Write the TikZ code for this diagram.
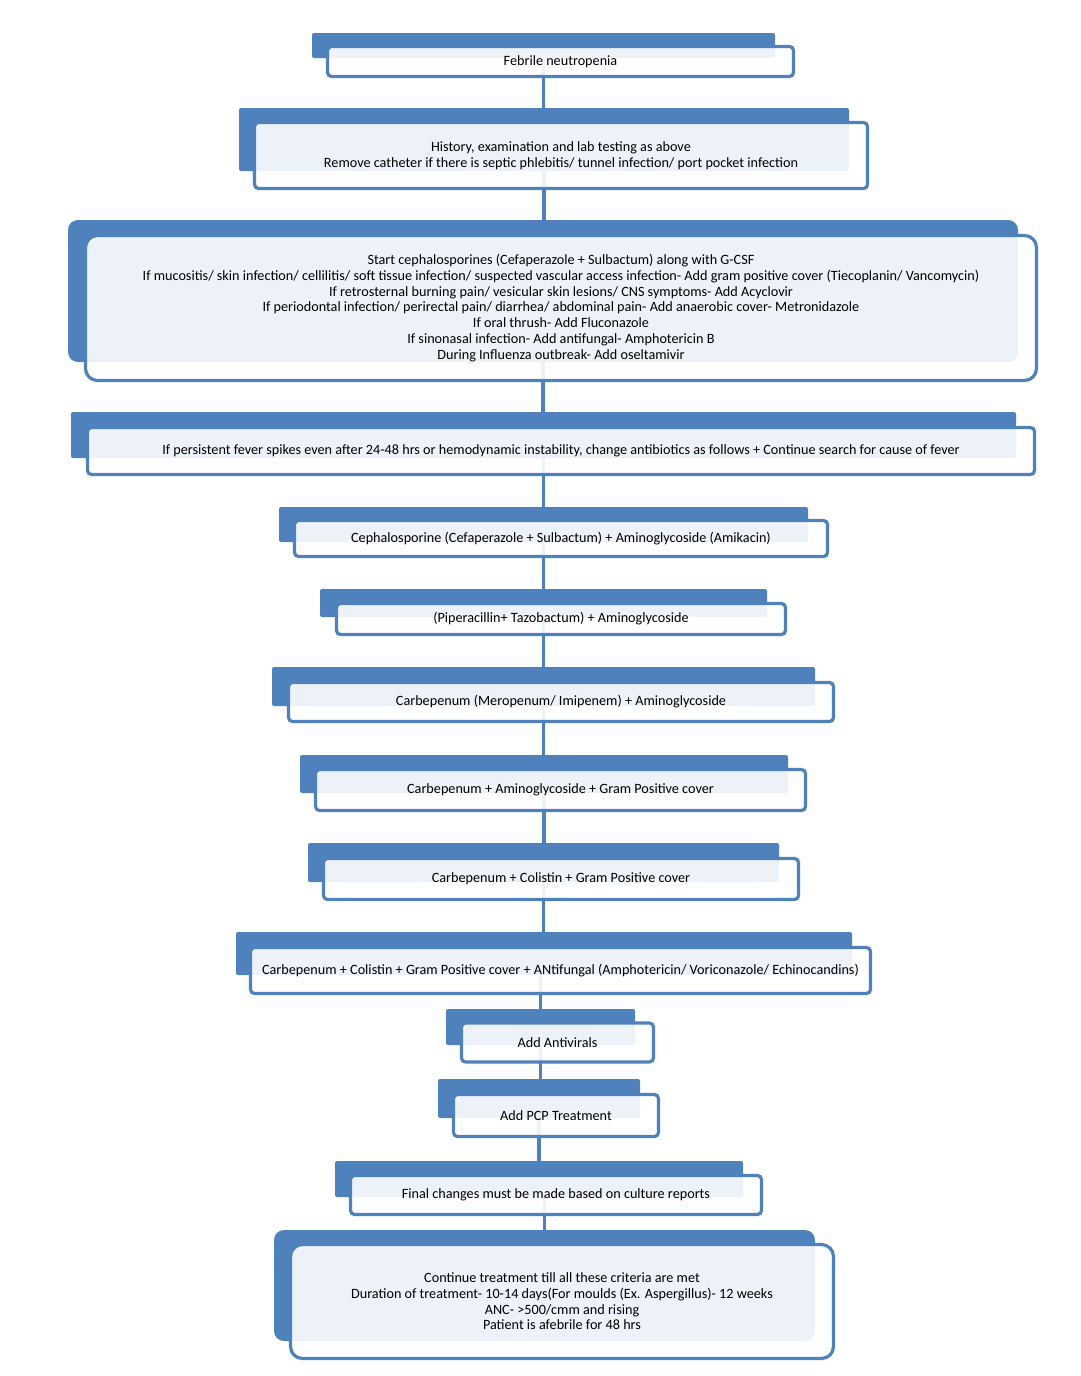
\documentclass[tikz,border=0pt]{standalone}
\usepackage{fontspec}
\setmainfont{Carlito}
\pgfdeclarelayer{links}
\pgfdeclarelayer{back}
\pgfsetlayers{links,back,main}
\definecolor{flowblue}{RGB}{79,129,189}

\begin{document}
\begin{tikzpicture}[x=1pt,y=-1pt,
    backbox/.style={fill=flowblue, inner sep=0pt, outer sep=0pt, rounded corners=2pt},
    frontbox/.style={draw=flowblue, line width=3.2pt, fill=white, fill opacity=0.9, draw opacity=1, text opacity=1,
        rounded corners=4pt, inner sep=0pt, outer sep=0pt, align=center, font=\fontsize{14.2}{15.7}\selectfont},
    link/.style={draw=flowblue, line width=3.5pt}]
\useasboundingbox (0,0) rectangle (1080,1376);

                % front boxes with the text
                \node[frontbox, minimum width=466, minimum height=30] (febrile) at (560.5,61.5) {Febrile neutropenia};
                \node[frontbox, minimum width=613, minimum height=66] (history) at (561,155.5) {History, examination and lab testing as above\\Remove catheter if there is septic phlebitis/ tunnel infection/ port pocket infection};
                \node[frontbox, rounded corners=12pt, minimum width=951, minimum height=145] (start) at (561,308) {Start cephalosporines (Cefaperazole + Sulbactum) along with G-CSF\\If mucositis/ skin infection/ cellilitis/ soft tissue infection/ suspected vascular access infection- Add gram positive cover (Tiecoplanin/ Vancomycin)\\If retrosternal burning pain/ vesicular skin lesions/ CNS symptoms- Add Acyclovir\\If periodontal infection/ perirectal pain/ diarrhea/ abdominal pain- Add anaerobic cover- Metronidazole\\If oral thrush- Add Fluconazole\\If sinonasal infection- Add antifungal- Amphotericin B\\During Influenza outbreak- Add oseltamivir};
                \node[frontbox, minimum width=947, minimum height=47] (persist) at (561,451) {If persistent fever spikes even after 24-48 hrs or hemodynamic instability, change antibiotics as follows + Continue search for cause of fever};
                \node[frontbox, minimum width=533, minimum height=36] (ceph) at (561,538.5) {Cephalosporine (Cefaperazole + Sulbactum) + Aminoglycoside (Amikacin)};
                \node[frontbox, minimum width=449, minimum height=31] (pip) at (561,619) {(Piperacillin+ Tazobactum) + Aminoglycoside};
                \node[frontbox, minimum width=545, minimum height=39] (carbA) at (561,702) {Carbepenum (Meropenum/ Imipenem) + Aminoglycoside};
                \node[frontbox, minimum width=490, minimum height=41] (carbB) at (560.5,790) {Carbepenum + Aminoglycoside + Gram Positive cover};
                \node[frontbox, minimum width=475, minimum height=41] (carbC) at (561,879) {Carbepenum + Colistin + Gram Positive cover};
                \node[frontbox, minimum width=620, minimum height=46] (carbD) at (560.5,970.5) {Carbepenum + Colistin + Gram Positive cover + ANtifungal (Amphotericin/ Voriconazole/ Echinocandins)};
                \node[frontbox, minimum width=192, minimum height=39] (antiviral) at (557.5,1042.5) {Add Antivirals};
                \node[frontbox, minimum width=205, minimum height=42] (pcp) at (556,1115.5) {Add PCP Treatment};
                \node[frontbox, minimum width=411, minimum height=39] (final) at (556,1195) {Final changes must be made based on culture reports};
                \node[frontbox, rounded corners=12pt, minimum width=543, minimum height=114] (cont) at (562,1301.5) {Continue treatment till all these criteria are met\\Duration of treatment- 10-14 days(For moulds (Ex. Aspergillus)- 12 weeks\\ANC- >500/cmm and rising\\Patient is afebrile for 48 hrs};

                % blue bands behind
                \begin{pgfonlayer}{back}
                \node[backbox, minimum width=463, minimum height=25] (febrileb) at (543.5,45.5) {};
                \node[backbox, minimum width=610, minimum height=63] (historyb) at (544,139.5) {};
                \node[backbox, rounded corners=10pt, minimum width=950, minimum height=142] (startb) at (543,291) {};
                \node[backbox, minimum width=945, minimum height=46] (persistb) at (543.5,435) {};
                \node[backbox, minimum width=529, minimum height=35] (cephb) at (543.5,524.5) {};
                \node[backbox, minimum width=447, minimum height=28] (pipb) at (543.5,603) {};
                \node[backbox, minimum width=543, minimum height=39] (carbAb) at (543.5,686.5) {};
                \node[backbox, minimum width=488, minimum height=38] (carbBb) at (544,774) {};
                \node[backbox, minimum width=471, minimum height=39] (carbCb) at (543.5,862.5) {};
                \node[backbox, minimum width=616, minimum height=43] (carbDb) at (544,953.5) {};
                \node[backbox, minimum width=189, minimum height=36] (antiviralb) at (540.5,1027) {};
                \node[backbox, minimum width=202, minimum height=39] (pcpb) at (539,1098.5) {};
                \node[backbox, minimum width=408, minimum height=36] (finalb) at (539,1179) {};
                \node[backbox, rounded corners=10pt, minimum width=541, minimum height=111] (contb) at (544.5,1285.5) {};
                \end{pgfonlayer}

                % connectors
                \begin{pgfonlayer}{links}
                \path [link] (febrileb.south) edge (febrileb.south |- historyb.north);
                \path [link] (historyb.south) edge (historyb.south |- startb.north);
                \path [link] (startb.south) edge (startb.south |- persistb.north);
                \path [link] (persistb.south) edge (persistb.south |- cephb.north);
                \path [link] (cephb.south) edge (cephb.south |- pipb.north);
                \path [link] (pipb.south) edge (pipb.south |- carbAb.north);
                \path [link] (carbAb.south) edge (carbAb.south |- carbBb.north);
                \path [link] (carbBb.south) edge (carbBb.south |- carbCb.north);
                \path [link] (carbCb.south) edge (carbCb.south |- carbDb.north);
                \path [link] (antiviralb.south |- carbDb.south) edge (antiviralb.north);
                \path [link] (antiviralb.south) edge (antiviralb.south |- pcpb.north);
                \path [link] (pcpb.south) edge (pcpb.south |- finalb.north);
                \path [link] (contb.north |- finalb.south) edge (contb.north);
                \end{pgfonlayer}
\end{tikzpicture}
\end{document}
